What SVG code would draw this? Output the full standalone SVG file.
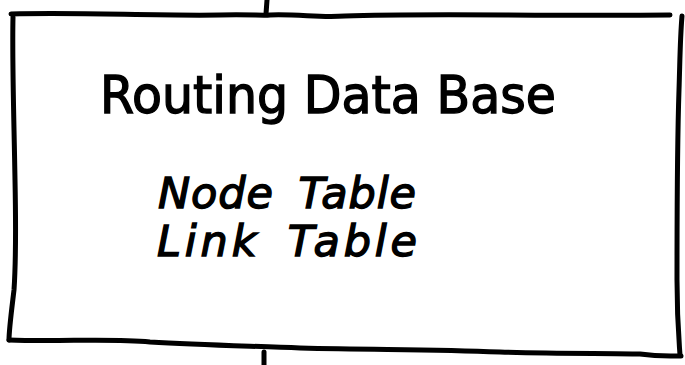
<svg xmlns="http://www.w3.org/2000/svg" width="685" height="365" viewBox="0 0 685 365">
  <style>
    .ink { fill: none; stroke: #000; stroke-width: 5; stroke-linecap: round; stroke-linejoin: round; }
    .hand { font-family: "DejaVu Sans", "Liberation Sans", sans-serif; fill: #000; stroke: #000; stroke-width: 1.4; }
    .title { font-size: 51px; }
    .item { font-size: 43px; font-style: italic; word-spacing: 10px; }
  </style>
  <rect width="685" height="365" fill="#fff"/>
  <g id="connectors">
    <path class="ink" d="M267,0 L266,14"/>
    <path class="ink" d="M264,352 L264,365"/>
  </g>
  <g id="routing-data-base">
    <!-- hand-drawn box outline -->
    <path class="ink" d="M11,14 C80,12 150,16 220,15 C250,14 262,16 270,15 C300,14 320,18 345,16 C420,13 520,16 670,15"/>
    <path class="ink" d="M682,16 C680,40 680,60 679,90 C677,150 677,220 677,280 C677,320 679,340 680,355"/>
    <path class="ink" d="M13,17 C12,60 14,120 15,180 C16,230 16,260 14,290 C11,315 9,330 9,340"/>
    <path class="ink" d="M9,340 C60,342 110,338 150,342 C200,345 250,346 300,348 C380,350 430,349 500,352 C560,354 610,353 640,354 C660,357 672,356 681,356"/>
    <text class="hand title" x="100" y="113" textLength="456" lengthAdjust="spacingAndGlyphs">Routing Data Base</text>
    <text class="hand item" x="158" y="208" textLength="258" lengthAdjust="spacing">Node Table</text>
    <text class="hand item" x="157" y="256" textLength="260" lengthAdjust="spacing">Link Table</text>
  </g>
</svg>
